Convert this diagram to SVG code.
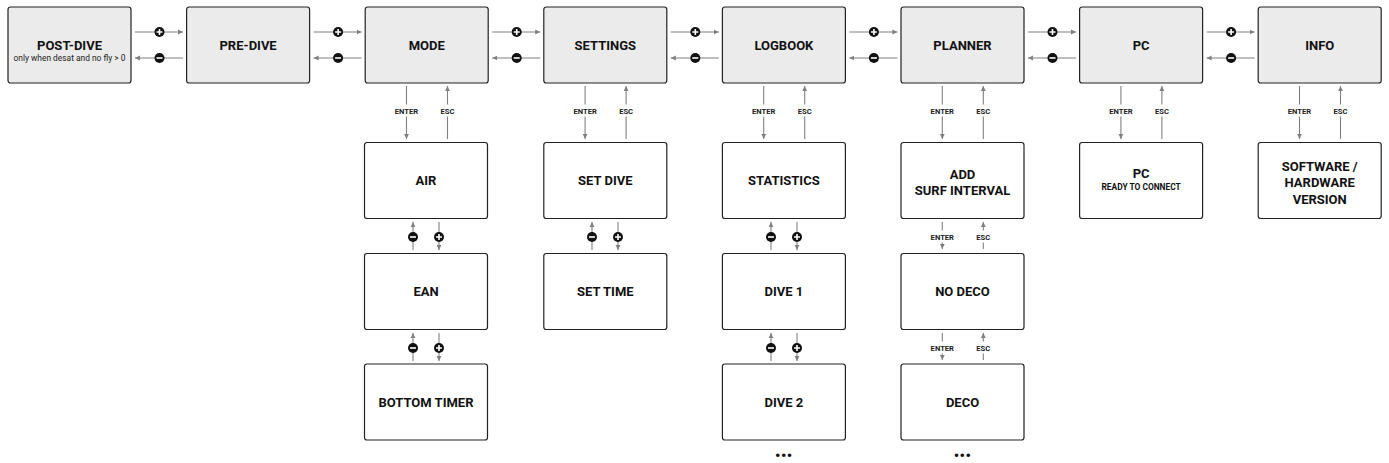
<svg xmlns="http://www.w3.org/2000/svg" width="1389" height="463" viewBox="0 0 1389 463">
<style>
.top{fill:#ebebeb;stroke:#222;stroke-width:1.2}
.sub{fill:#fff;stroke:#222;stroke-width:1.2}
.t{font-family:Roboto,"Liberation Sans",sans-serif;font-weight:700;font-size:13px;fill:#111;text-anchor:middle}
.s{font-family:Roboto,"Liberation Sans",sans-serif;font-weight:400;font-size:8.4px;fill:#222;text-anchor:middle}
.s2{font-family:Roboto,"Liberation Sans",sans-serif;font-weight:700;font-size:8.4px;fill:#111;text-anchor:middle}
.l{font-family:Roboto,"Liberation Sans",sans-serif;font-weight:700;font-size:7.6px;fill:#222;text-anchor:middle}
.a{stroke:#808080;stroke-width:1.1;fill:none;marker-end:url(#ah)}
.dots{font-family:Roboto,"Liberation Sans",sans-serif;font-weight:700;font-size:15px;letter-spacing:0.5px;fill:#111;text-anchor:middle}
</style>
<defs>
<marker id="ah" markerWidth="6" markerHeight="6" refX="5" refY="3" orient="auto" markerUnits="userSpaceOnUse">
<path d="M0,0.6 L5,3 L0,5.4 Z" fill="#808080"/>
</marker>
<g id="plus"><circle r="5" fill="#111"/><path d="M-3,0H3M0,-3V3" stroke="#fff" stroke-width="1.6"/></g>
<g id="minus"><circle r="5" fill="#111"/><path d="M-3,0H3" stroke="#fff" stroke-width="1.6"/></g>
</defs>
<rect width="1389" height="463" fill="#fff"/>

<g id="connectors">
<g id="h">
<path class="a" d="M135,32H183"/><path class="a" d="M183,58H135"/>
<path class="a" d="M313.6,32H361.6"/><path class="a" d="M361.6,58H313.6"/>
<path class="a" d="M492.2,32H540.2"/><path class="a" d="M540.2,58H492.2"/>
<path class="a" d="M670.8,32H718.8"/><path class="a" d="M718.8,58H670.8"/>
<path class="a" d="M849.4,32H897.4"/><path class="a" d="M897.4,58H849.4"/>
<path class="a" d="M1028,32H1076"/><path class="a" d="M1076,58H1028"/>
<path class="a" d="M1206.6,32H1254.6"/><path class="a" d="M1254.6,58H1206.6"/>
<use href="#plus" x="159.5" y="32"/><use href="#minus" x="159.5" y="58"/>
<use href="#plus" x="338.1" y="32"/><use href="#minus" x="338.1" y="58"/>
<use href="#plus" x="516.7" y="32"/><use href="#minus" x="516.7" y="58"/>
<use href="#plus" x="695.3" y="32"/><use href="#minus" x="695.3" y="58"/>
<use href="#plus" x="873.9" y="32"/><use href="#minus" x="873.9" y="58"/>
<use href="#plus" x="1052.5" y="32"/><use href="#minus" x="1052.5" y="58"/>
<use href="#plus" x="1231.1" y="32"/><use href="#minus" x="1231.1" y="58"/>
</g>
<g id="ee">
<path class="a" d="M406.5,86V139"/><path class="a" d="M447.5,139V86"/>
<path class="a" d="M585.1,86V139"/><path class="a" d="M626.1,139V86"/>
<path class="a" d="M763.7,86V139"/><path class="a" d="M804.7,139V86"/>
<path class="a" d="M942.3,86V139"/><path class="a" d="M983.3,139V86"/>
<path class="a" d="M1120.9,86V139"/><path class="a" d="M1161.9,139V86"/>
<path class="a" d="M1299.5,86V139"/><path class="a" d="M1340.5,139V86"/>
</g>
<g id="eelabels">
<rect x="391" y="104.5" width="31" height="12" fill="#fff"/><text class="l" x="406.5" y="113.7">ENTER</text>
<rect x="438" y="104.5" width="19" height="12" fill="#fff"/><text class="l" x="447.5" y="113.7">ESC</text>
<rect x="569.6" y="104.5" width="31" height="12" fill="#fff"/><text class="l" x="585.1" y="113.7">ENTER</text>
<rect x="616.6" y="104.5" width="19" height="12" fill="#fff"/><text class="l" x="626.1" y="113.7">ESC</text>
<rect x="748.2" y="104.5" width="31" height="12" fill="#fff"/><text class="l" x="763.7" y="113.7">ENTER</text>
<rect x="795.2" y="104.5" width="19" height="12" fill="#fff"/><text class="l" x="804.7" y="113.7">ESC</text>
<rect x="926.8" y="104.5" width="31" height="12" fill="#fff"/><text class="l" x="942.3" y="113.7">ENTER</text>
<rect x="973.8" y="104.5" width="19" height="12" fill="#fff"/><text class="l" x="983.3" y="113.7">ESC</text>
<rect x="1105.4" y="104.5" width="31" height="12" fill="#fff"/><text class="l" x="1120.9" y="113.7">ENTER</text>
<rect x="1152.4" y="104.5" width="19" height="12" fill="#fff"/><text class="l" x="1161.9" y="113.7">ESC</text>
<rect x="1284" y="104.5" width="31" height="12" fill="#fff"/><text class="l" x="1299.5" y="113.7">ENTER</text>
<rect x="1331" y="104.5" width="19" height="12" fill="#fff"/><text class="l" x="1340.5" y="113.7">ESC</text>
</g>
<g id="planner-ee">
<path class="a" d="M942.3,222V249"/><path class="a" d="M983.3,249V222"/>
<rect x="926.8" y="230.5" width="31" height="12" fill="#fff"/><text class="l" x="942.3" y="239.7">ENTER</text>
<rect x="973.8" y="230.5" width="19" height="12" fill="#fff"/><text class="l" x="983.3" y="239.7">ESC</text>
<path class="a" d="M942.3,333V360"/><path class="a" d="M983.3,360V333"/>
<rect x="926.8" y="341.5" width="31" height="12" fill="#fff"/><text class="l" x="942.3" y="350.7">ENTER</text>
<rect x="973.8" y="341.5" width="19" height="12" fill="#fff"/><text class="l" x="983.3" y="350.7">ESC</text>
</g>
<g id="pm">
<path class="a" d="M413,250V222"/><path class="a" d="M439,222V250"/>
<use href="#minus" x="413" y="237"/><use href="#plus" x="439" y="237"/>
<path class="a" d="M413,361V333"/><path class="a" d="M439,333V361"/>
<use href="#minus" x="413" y="348"/><use href="#plus" x="439" y="348"/>
<path class="a" d="M592,250V222"/><path class="a" d="M618,222V250"/>
<use href="#minus" x="592" y="237"/><use href="#plus" x="618" y="237"/>
<path class="a" d="M771,250V222"/><path class="a" d="M797,222V250"/>
<use href="#minus" x="771" y="237"/><use href="#plus" x="797" y="237"/>
<path class="a" d="M771,361V333"/><path class="a" d="M797,333V361"/>
<use href="#minus" x="771" y="348"/><use href="#plus" x="797" y="348"/>
</g>
</g>

<g id="post-dive"><rect class="top" x="8" y="7" width="123" height="76" rx="2.5"/><text class="t" x="69.5" y="49.5">POST-DIVE</text><text class="s" x="69.5" y="61.3">only when desat and no fly &gt; 0</text></g>
<g id="pre-dive"><rect class="top" x="186.6" y="7" width="123" height="76" rx="2.5"/><text class="t" x="248.1" y="49.5">PRE-DIVE</text></g>
<g id="mode"><rect class="top" x="365.2" y="7" width="123" height="76" rx="2.5"/><text class="t" x="426.7" y="49.5">MODE</text></g>
<g id="settings"><rect class="top" x="543.8" y="7" width="123" height="76" rx="2.5"/><text class="t" x="605.3" y="49.5">SETTINGS</text></g>
<g id="logbook"><rect class="top" x="722.4" y="7" width="123" height="76" rx="2.5"/><text class="t" x="783.9" y="49.5">LOGBOOK</text></g>
<g id="planner"><rect class="top" x="901" y="7" width="123" height="76" rx="2.5"/><text class="t" x="962.5" y="49.5">PLANNER</text></g>
<g id="pc"><rect class="top" x="1079.6" y="7" width="123" height="76" rx="2.5"/><text class="t" x="1141.1" y="49.5">PC</text></g>
<g id="info"><rect class="top" x="1258.2" y="7" width="123" height="76" rx="2.5"/><text class="t" x="1319.7" y="49.5">INFO</text></g>

<g id="air"><rect class="sub" x="364.5" y="142.5" width="123" height="76" rx="2.5"/><text class="t" x="426" y="185">AIR</text></g>
<g id="ean"><rect class="sub" x="364.5" y="253.5" width="123" height="76" rx="2.5"/><text class="t" x="426" y="296">EAN</text></g>
<g id="bottom-timer"><rect class="sub" x="364.5" y="364" width="123" height="76" rx="2.5"/><text class="t" x="426" y="406.5">BOTTOM TIMER</text></g>

<g id="set-dive"><rect class="sub" x="543.8" y="142.5" width="123" height="76" rx="2.5"/><text class="t" x="605.3" y="185">SET DIVE</text></g>
<g id="set-time"><rect class="sub" x="543.8" y="253.5" width="123" height="76" rx="2.5"/><text class="t" x="605.3" y="296">SET TIME</text></g>

<g id="statistics"><rect class="sub" x="722.4" y="142.5" width="123" height="76" rx="2.5"/><text class="t" x="783.9" y="185">STATISTICS</text></g>
<g id="dive1"><rect class="sub" x="722.4" y="253.5" width="123" height="76" rx="2.5"/><text class="t" x="783.9" y="296">DIVE 1</text></g>
<g id="dive2"><rect class="sub" x="722.4" y="364" width="123" height="76" rx="2.5"/><text class="t" x="783.9" y="406.5">DIVE 2</text></g>
<g id="log-more"><text class="dots" x="783.9" y="461">•••</text></g>

<g id="add-surf"><rect class="sub" x="901" y="142.5" width="123" height="76" rx="2.5"/><text class="t" x="962.5" y="178.5">ADD</text><text class="t" x="962.5" y="194.5">SURF INTERVAL</text></g>
<g id="no-deco"><rect class="sub" x="901" y="253.5" width="123" height="76" rx="2.5"/><text class="t" x="962.5" y="296">NO DECO</text></g>
<g id="deco"><rect class="sub" x="901" y="364" width="123" height="76" rx="2.5"/><text class="t" x="962.5" y="406.5">DECO</text></g>
<g id="plan-more"><text class="dots" x="962.5" y="461">•••</text></g>

<g id="pc-ready"><rect class="sub" x="1079.6" y="142.5" width="123" height="76" rx="2.5"/><text class="t" x="1141.1" y="178">PC</text><text class="s2" x="1141.1" y="189.6">READY TO CONNECT</text></g>
<g id="sw-hw"><rect class="sub" x="1258.2" y="142.5" width="123" height="76" rx="2.5"/><text class="t" x="1319.7" y="170.5">SOFTWARE /</text><text class="t" x="1319.7" y="187">HARDWARE</text><text class="t" x="1319.7" y="203.5">VERSION</text></g>
</svg>
